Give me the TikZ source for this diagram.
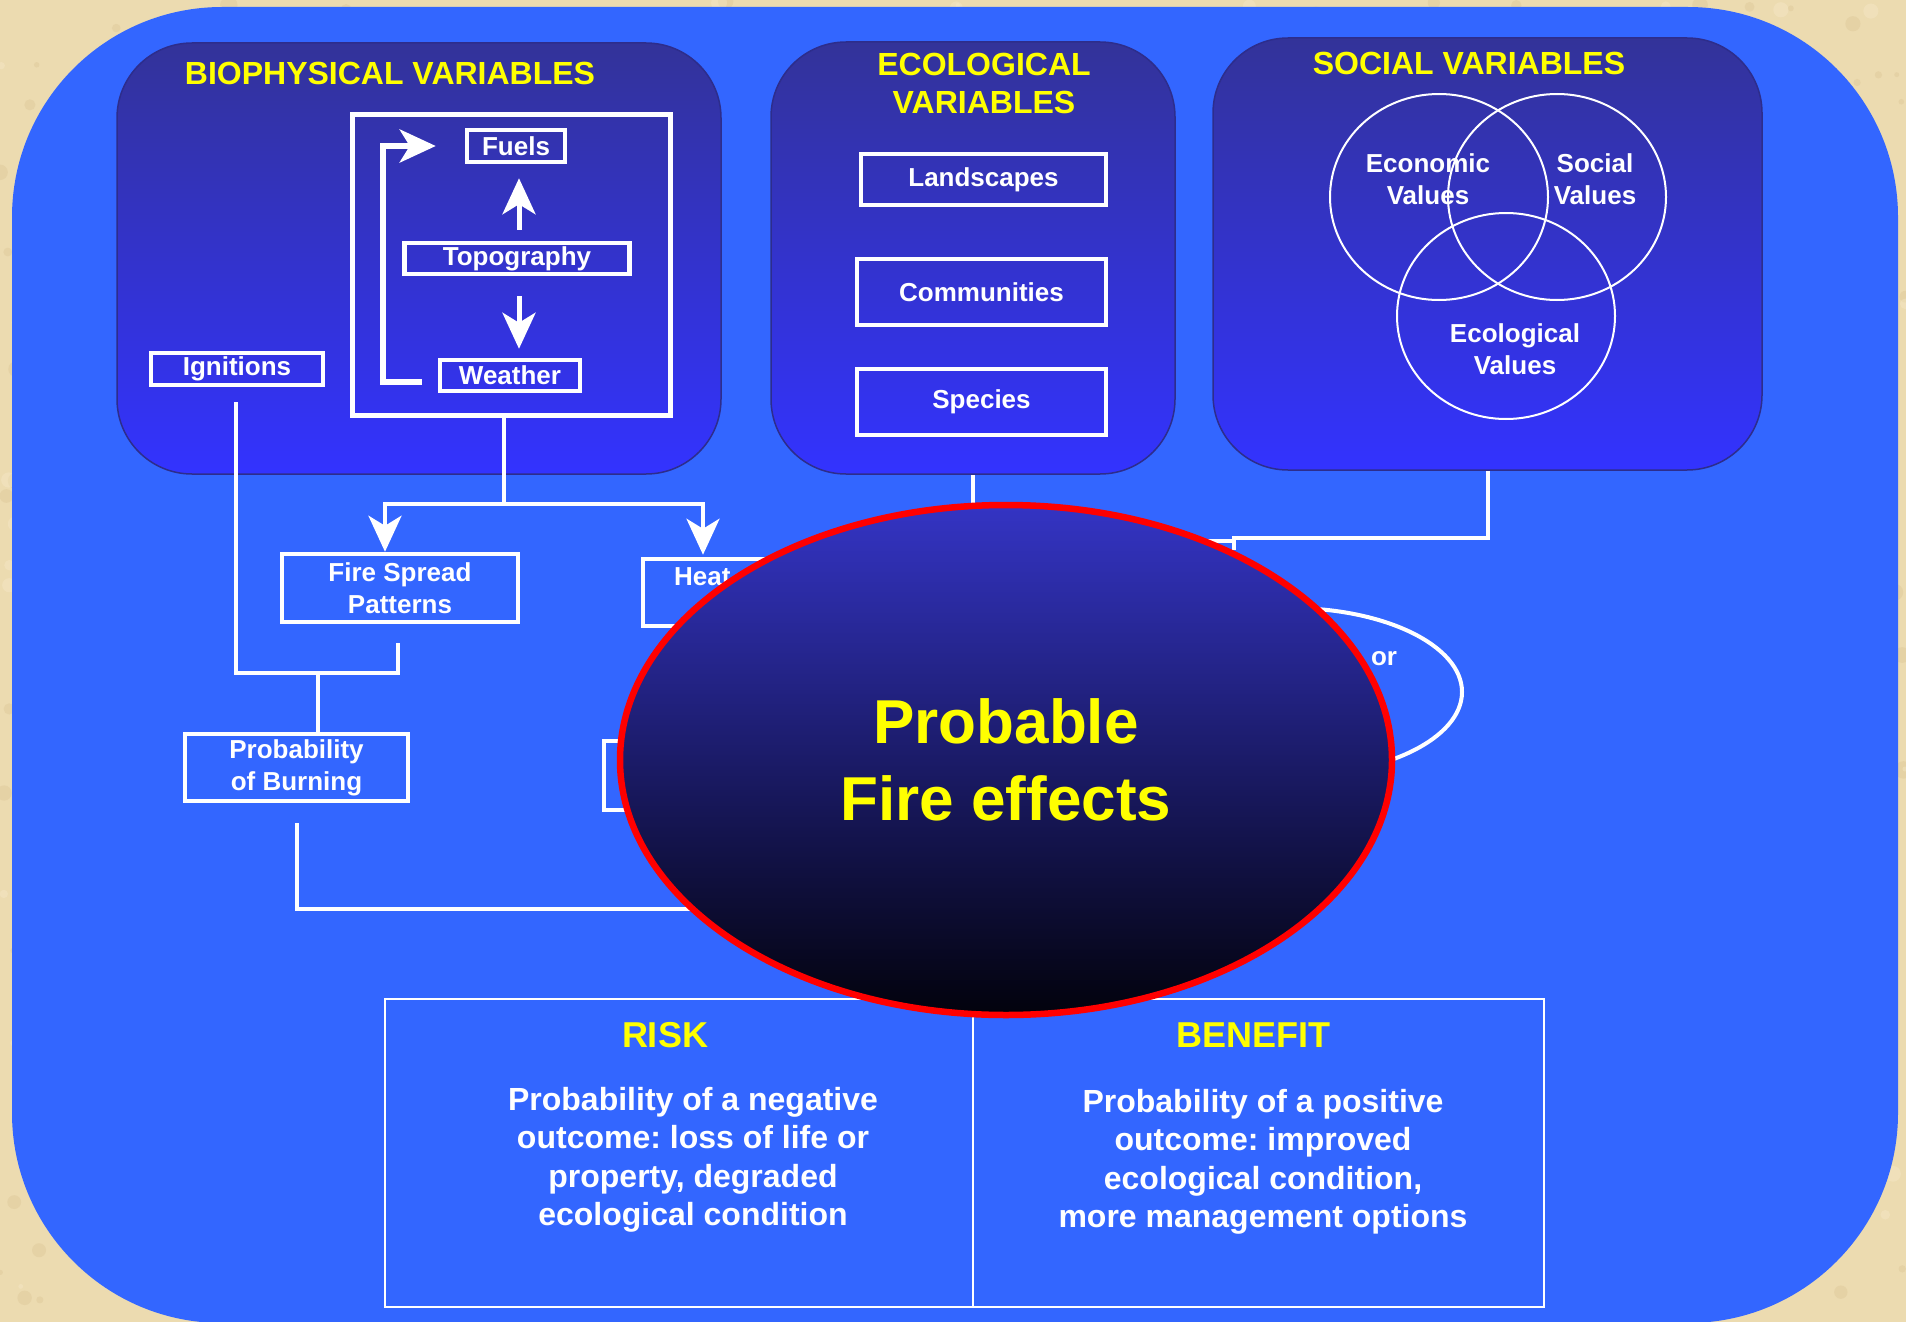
\documentclass[tikz,border=0pt]{standalone}
\usepackage{fontspec}
\setmainfont{Liberation Sans}
\frenchspacing
\usetikzlibrary{arrows.meta,shapes.geometric,calc}

\definecolor{parch}{RGB}{236,219,176}
\definecolor{parchdark}{RGB}{205,180,130}
\definecolor{parchlight}{RGB}{248,236,205}
\definecolor{slideblue}{RGB}{51,102,255}
\definecolor{paneltop}{RGB}{51,51,153}
\definecolor{panelbot}{RGB}{51,51,255}
\definecolor{paneledge}{RGB}{45,45,140}
\definecolor{hiyellow}{RGB}{255,255,0}
\definecolor{orbtop}{RGB}{52,52,196}
\definecolor{orbmid}{RGB}{33,33,128}
\definecolor{orbbot}{RGB}{2,2,12}

\tikzset{
  panel/.style={rectangle, draw=paneledge, line width=1.5pt,
    top color=paneltop, bottom color=panelbot, rounded corners=75pt},
  paneltitle/.style={text=hiyellow, font=\bfseries\fontsize{32}{38}\selectfont,
    align=center, inner sep=0pt},
  box/.style={rectangle, draw=white, line width=4.5pt, text=white, inner sep=0pt,
    font=\bfseries\fontsize{26}{32}\selectfont, align=center},
  label/.style={text=white, inner sep=0pt, font=\bfseries\fontsize{26}{32}\selectfont,
    align=center},
  link/.style={draw=white, line width=4pt},
  flow/.style={draw=white, line width=5pt,
    -{Stealth[length=36pt,width=33pt,inset=10pt]}},
  venn/.style={ellipse, draw=white, line width=2pt, minimum width=218pt,
    minimum height=206pt, inner sep=0pt},
  panebox/.style={rectangle, draw=white, line width=1.5pt, inner sep=0pt},
  headline/.style={text=hiyellow, font=\bfseries\fontsize{36}{42}\selectfont,
    inner sep=0pt},
  bodytext/.style={text=white, font=\bfseries\fontsize{32}{38.5}\selectfont,
    align=center, inner sep=0pt},
}

\begin{document}
\begin{tikzpicture}[x=1pt,y=-1pt]
\useasboundingbox (0,0) rectangle (1906,1322);

% paper ground with a mottled grain
\fill[parch] (0,0) rectangle (1906,1322);
\pgfmathsetseed{7}
\foreach \i in {1,...,900} {
  \pgfmathsetmacro{\px}{rnd*1906}
  \pgfmathsetmacro{\py}{rnd*1322}
  \pgfmathsetmacro{\pr}{2+rnd*7}
  \fill[parchdark, opacity=0.22] (\px,\py) circle[radius=\pr];
}
\foreach \i in {1,...,600} {
  \pgfmathsetmacro{\px}{rnd*1906}
  \pgfmathsetmacro{\py}{rnd*1322}
  \pgfmathsetmacro{\pr}{2+rnd*6}
  \fill[parchlight, opacity=0.35] (\px,\py) circle[radius=\pr];
}

% the slide field
\fill[slideblue, rounded corners=210pt] (12,7) rectangle (1898,1323);

% the three variable panels
\node[panel, minimum width=604pt, minimum height=431pt] (bio) at (419,258.5) {};
\node[panel, minimum width=404pt, minimum height=432pt] (eco) at (973,258) {};
\node[panel, minimum width=549pt, minimum height=432pt] (soc) at (1487.5,254) {};

\node[paneltitle] (biot) at (390,73) {BIOPHYSICAL VARIABLES};
\node[paneltitle] (ecot) at (984,83) {ECOLOGICAL\\VARIABLES};
\node[paneltitle] (soct) at (1469,63) {SOCIAL VARIABLES};

% biophysical boxes
\node[rectangle, draw=white, line width=5pt, minimum width=318pt,
      minimum height=301pt] (inner) at (511.5,265) {};
\node[box, minimum width=98pt, minimum height=32pt] (fuels) at (516,146) {Fuels};
\node[box, minimum width=225pt, minimum height=31pt] (topo) at (517,258.5) {Topography};
\node[box, minimum width=140pt, minimum height=31pt] (weather) at (510,375.5) {Weather};
\node[box, minimum width=172pt, minimum height=32pt] (ign) at (237,369) {Ignitions};

\draw[flow] ($(topo.north)+(2,-11)$) -- ($(topo.north |- fuels.south)+(2,14)$);
\draw[flow] ($(topo.south)+(2,20)$) -- ($(topo.south |- weather.north)+(2,-9)$);
\coordinate (loopturn) at (383,146);
\draw[flow, line width=6pt] ($(weather.west)+(-16,6)$) -| (loopturn)
  -- ($(fuels.west)+(-29,0)$);

% ecological boxes
\node[box, minimum width=245pt, minimum height=51pt] (land) at (983.5,179.5) {Landscapes};
\node[box, minimum width=249pt, minimum height=66pt] (comm) at (981.5,292) {Communities};
\node[box, minimum width=249pt, minimum height=66pt] (spec) at (981.5,402) {Species};

% social values
\node[venn] (econ) at (1439,197) {};
\node[venn] (socv) at (1557,197) {};
\node[venn] (ecov) at (1506,316) {};
\node[label] at (1428,179) {Economic\\Values};
\node[label] at (1595,179) {Social\\Values};
\node[label] at (1515,349) {Ecological\\Values};

% fire behaviour chain
\node[box, minimum width=236pt, minimum height=68pt] (spread) at (400,588) {Fire Spread\\Patterns};
\node[box, minimum width=236pt, minimum height=67pt] (heat) at (761,592.5) {};
\node[label, anchor=west] (heatt) at (674,577) {Heat};
\node[box, minimum width=223pt, minimum height=67pt] (burn) at (296.5,767.5) {Probability\\of Burning};
\node[box, minimum width=236pt, minimum height=69pt] (hidden) at (722,775.5) {};

\coordinate (split) at (504,504);
\draw[link] (split |- inner.south) -- (split);
\draw[flow, line width=4pt] (split) -| ($(spread.north)+(-15,0)$);
\draw[flow, line width=4pt] (split) -| ($(heat.north)+(-58,-2)$);

\coordinate (join) at (318,673);
\draw[link] ($(ign.south)+(-1,15)$) |- (join) -| ($(spread.south)+(-2,19)$);
\draw[link] (join) -- (join |- burn.north);

\coordinate (burnout) at (820,909);
\draw[link] ($(burn.south)+(0,20)$) |- (burnout);

% links into the centre
\node[ellipse, draw=white, line width=4pt, minimum width=344pt,
      minimum height=168pt, inner sep=0pt] (behav) at (1290,692) {};
\node[label] (behavt) at (1384,659) {or};

\coordinate (socturn) at (1234,538);
\draw[link] (soc.south) |- (socturn) -- ++(0,12);
\draw[link] (1236,541) -- (1160,541);
\draw[link] (eco.south) -- (eco.south |- behav.north);

% risk / benefit table
\node[panebox, minimum width=588pt, minimum height=308pt] (risk) at (679,1153) {};
\node[panebox, minimum width=571pt, minimum height=308pt] (benefit) at (1258.5,1153) {};
\node[headline] at (665,1035) {RISK};
\node[headline] at (1253,1035) {BENEFIT};
\node[bodytext] at (693,1160) {Probability of a negative\\outcome: loss of life or\\property, degraded\\ecological condition};
\node[bodytext] at (1263,1162) {Probability of a positive\\outcome: improved\\ecological condition,\\more management options};

% central result
\node[ellipse, draw=red, line width=6.5pt, minimum width=772pt,
      minimum height=510pt, inner sep=0pt,
      top color=orbtop, middle color=orbmid, bottom color=orbbot] (effects) at (1006,760) {};
\node[text=hiyellow, font=\bfseries\fontsize{62}{77}\selectfont, align=center,
      inner sep=0pt] at (1006,760) {Probable\\Fire effects};
\end{tikzpicture}
\end{document}
